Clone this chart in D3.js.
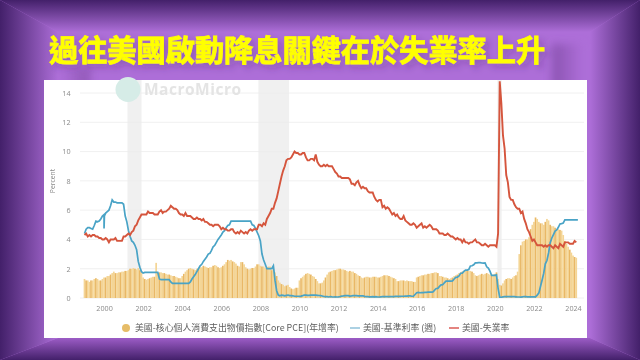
<!DOCTYPE html>
<html>
<head>
<meta charset="utf-8">
<script src="https://cdnjs.cloudflare.com/ajax/libs/d3/7.8.5/d3.min.js"></script>
<style>
html, body { margin: 0; padding: 0; background: #a868d2; }
svg { display: block; }
</style>
</head>
<body>
<div id="chart"></div>
<script>
const title = "過往美國啟動降息關鍵在於失業率上升";
const yTicks = [0, 2, 4, 6, 8, 10, 12, 14];
const xTicks = [2000, 2002, 2004, 2006, 2008, 2010, 2012, 2014, 2016, 2018, 2020, 2022, 2024];
const recessions = [[2001.2, 2001.92], [2007.9, 2009.47], [2020.13, 2020.35]];
const seriesNames = ["美國-核心個人消費支出物價指數[Core PCE](年增率)", "美國-基準利率 (週)", "美國-失業率"];

// monthly values, Jan 1999 on
const corePce = [
  1.3, 1.2, 1.2, 1.1, 1.2, 1.2, 1.3, 1.35, 1.3, 1.2, 1.2, 1.3,
  1.4, 1.4, 1.5, 1.5, 1.6, 1.7, 1.8, 1.7, 1.7, 1.75, 1.75, 1.8,
  1.8, 1.85, 1.85, 1.9, 2.0, 2.0, 2.05, 2.0, 1.95, 2.05, 1.9, 1.75,
  1.4, 1.3, 1.25, 1.3, 1.35, 1.4, 1.45, 1.45, 2.4, 1.75, 1.75, 1.75,
  1.7, 1.7, 1.65, 1.6, 1.6, 1.55, 1.5, 1.5, 1.45, 1.4, 1.35, 1.35,
  1.5, 1.65, 1.8, 1.9, 2.0, 2.05, 2.0, 1.95, 1.9, 2.0, 2.05, 2.1,
  2.1, 2.2, 2.15, 2.1, 2.05, 2.1, 2.1, 2.2, 2.25, 2.2, 2.1, 2.05,
  2.1, 2.2, 2.3, 2.45, 2.6, 2.55, 2.6, 2.5, 2.45, 2.35, 2.2, 2.15,
  2.45, 2.45, 2.3, 2.1, 2.0, 1.95, 2.0, 2.05, 2.05, 2.15, 2.3, 2.3,
  2.2, 2.15, 2.15, 2.05, 2.1, 2.15, 2.15, 1.9, 2.0, 1.75, 1.5, 1.2,
  1.05, 0.95, 0.9, 0.8, 0.85, 0.9, 0.75, 0.65, 0.6, 0.65, 0.7, 0.7,
  1.2, 1.35, 1.45, 1.55, 1.65, 1.7, 1.65, 1.6, 1.5, 1.45, 1.3, 1.15,
  1.0, 1.0, 1.05, 1.2, 1.4, 1.6, 1.75, 1.8, 1.85, 1.9, 1.9, 1.95,
  2.0, 2.0, 1.95, 1.95, 1.9, 1.85, 1.8, 1.85, 1.8, 1.8, 1.7, 1.65,
  1.55, 1.5, 1.4, 1.35, 1.4, 1.45, 1.45, 1.4, 1.4, 1.45, 1.45, 1.45,
  1.4, 1.4, 1.45, 1.5, 1.55, 1.55, 1.55, 1.5, 1.45, 1.4, 1.35, 1.3,
  1.15, 1.15, 1.2, 1.2, 1.2, 1.15, 1.2, 1.15, 1.15, 1.15, 1.1, 1.1,
  1.4, 1.45, 1.5, 1.55, 1.55, 1.6, 1.6, 1.65, 1.65, 1.7, 1.7, 1.75,
  1.75, 1.7, 1.5, 1.5, 1.45, 1.4, 1.4, 1.35, 1.3, 1.35, 1.4, 1.5,
  1.55, 1.6, 1.7, 1.75, 1.8, 1.85, 1.9, 1.9, 1.85, 1.85, 1.8, 1.7,
  1.55, 1.5, 1.55, 1.6, 1.65, 1.6, 1.65, 1.7, 1.65, 1.6, 1.55, 1.6,
  1.65, 1.75, 1.3, 0.9, 0.85, 1.0, 1.2, 1.3, 1.35, 1.35, 1.3, 1.4,
  1.5, 1.55, 1.8, 3.0, 3.6, 3.85, 3.9, 4.0, 4.0, 4.15, 4.7, 5.0,
  5.2, 5.5, 5.4, 5.2, 5.1, 5.1, 5.0, 5.2, 5.4, 5.3, 5.0, 4.9,
  4.9, 4.8, 4.7, 4.7, 4.65, 4.6, 4.3, 3.9, 3.7, 3.5, 3.3, 3.1,
  2.9, 2.8, 2.75
];

const unemployment = [
  4.3, 4.4, 4.2, 4.3, 4.2, 4.3, 4.3, 4.2, 4.2, 4.1, 4.1, 4.0,
  4.0, 4.1, 4.0, 3.8, 4.0, 4.0, 4.0, 4.1, 3.9, 3.9, 3.9, 3.9,
  4.2, 4.2, 4.3, 4.4, 4.3, 4.5, 4.6, 4.9, 5.0, 5.3, 5.5, 5.7,
  5.7, 5.7, 5.7, 5.9, 5.8, 5.8, 5.8, 5.7, 5.7, 5.7, 5.9, 6.0,
  5.8, 5.9, 5.9, 6.0, 6.1, 6.3, 6.2, 6.1, 6.1, 6.0, 5.8, 5.7,
  5.7, 5.6, 5.8, 5.6, 5.6, 5.6, 5.5, 5.4, 5.4, 5.5, 5.4, 5.4,
  5.3, 5.4, 5.2, 5.2, 5.1, 5.0, 5.0, 4.9, 5.0, 5.0, 5.0, 4.9,
  4.7, 4.8, 4.7, 4.7, 4.6, 4.6, 4.7, 4.7, 4.5, 4.4, 4.5, 4.4,
  4.6, 4.5, 4.4, 4.5, 4.4, 4.6, 4.7, 4.6, 4.7, 4.7, 4.7, 5.0,
  5.0, 4.9, 5.1, 5.0, 5.4, 5.6, 5.8, 6.1, 6.1, 6.5, 6.8, 7.3,
  7.8, 8.3, 8.7, 9.0, 9.4, 9.5, 9.5, 9.6, 9.8, 10.0, 9.9, 9.9,
  9.8, 9.8, 9.9, 9.9, 9.6, 9.4, 9.4, 9.5, 9.5, 9.4, 9.8, 9.3,
  9.1, 9.0, 9.0, 9.1, 9.0, 9.1, 9.0, 9.0, 9.0, 8.8, 8.6, 8.5,
  8.3, 8.3, 8.2, 8.2, 8.2, 8.2, 8.2, 8.1, 7.8, 7.8, 7.7, 7.9,
  8.0, 7.7, 7.5, 7.6, 7.5, 7.5, 7.3, 7.2, 7.2, 7.2, 6.9, 6.7,
  6.6, 6.7, 6.7, 6.2, 6.3, 6.1, 6.2, 6.1, 5.9, 5.7, 5.8, 5.6,
  5.7, 5.5, 5.4, 5.4, 5.6, 5.3, 5.2, 5.1, 5.0, 5.0, 5.1, 5.0,
  4.8, 4.9, 5.0, 5.1, 4.8, 4.9, 4.8, 4.9, 5.0, 4.9, 4.7, 4.7,
  4.7, 4.6, 4.4, 4.4, 4.4, 4.3, 4.3, 4.4, 4.3, 4.2, 4.2, 4.1,
  4.0, 4.1, 4.0, 4.0, 3.8, 4.0, 3.8, 3.8, 3.7, 3.8, 3.8, 3.9,
  4.0, 3.8, 3.8, 3.7, 3.6, 3.6, 3.7, 3.6, 3.5, 3.6, 3.6, 3.6,
  3.6, 3.5, 4.4, 14.8, 13.3, 11.1, 10.2, 8.4, 7.9, 6.9, 6.7, 6.7,
  6.4, 6.2, 6.1, 6.1, 5.8, 5.9, 5.4, 5.1, 4.7, 4.5, 4.2, 3.9,
  4.0, 3.8, 3.6, 3.6, 3.6, 3.6, 3.5, 3.6, 3.5, 3.6, 3.6, 3.5,
  3.4, 3.6, 3.5, 3.4, 3.7, 3.6, 3.5, 3.8, 3.8, 3.8, 3.7, 3.7,
  3.7, 3.9, 3.8
];

const fedRate = [
  4.4, 4.7, 4.8, 4.8, 4.75, 4.7, 4.95, 5.25, 5.2, 5.25, 5.4, 5.6,
  5.7, 5.8, 5.9, 6.0, 6.3, 6.7, 6.55, 6.55, 6.5, 6.5, 6.5, 6.5,
  6.4, 5.6, 5.2, 4.6, 4.2, 3.9, 3.8, 3.6, 3.3, 2.5, 2.1, 1.8,
  1.7, 1.75, 1.75, 1.75, 1.75, 1.75, 1.75, 1.75, 1.75, 1.75, 1.3, 1.25,
  1.25, 1.25, 1.25, 1.25, 1.25, 1.1, 1.0, 1.0, 1.0, 1.0, 1.0, 1.0,
  1.0, 1.0, 1.0, 1.0, 1.0, 1.1, 1.3, 1.45, 1.6, 1.8, 2.0, 2.2,
  2.3, 2.5, 2.65, 2.8, 3.0, 3.05, 3.25, 3.5, 3.6, 3.8, 4.0, 4.15,
  4.3, 4.5, 4.6, 4.8, 4.95, 5.0, 5.25, 5.25, 5.25, 5.25, 5.25, 5.25,
  5.25, 5.25, 5.25, 5.25, 5.25, 5.25, 5.25, 5.0, 4.95, 4.75, 4.5, 4.25,
  3.9, 3.0, 2.6, 2.3, 2.0, 2.0, 2.0, 2.0, 2.2, 1.2, 0.5, 0.2,
  0.15, 0.2, 0.18, 0.15, 0.18, 0.2, 0.16, 0.16, 0.15, 0.12, 0.12, 0.12,
  0.11, 0.13, 0.16, 0.2, 0.2, 0.18, 0.18, 0.19, 0.19, 0.19, 0.19, 0.18,
  0.17, 0.16, 0.14, 0.1, 0.09, 0.09, 0.07, 0.1, 0.08, 0.07, 0.08, 0.07,
  0.08, 0.1, 0.13, 0.14, 0.16, 0.16, 0.16, 0.13, 0.14, 0.16, 0.16, 0.16,
  0.14, 0.15, 0.14, 0.15, 0.11, 0.09, 0.09, 0.08, 0.08, 0.09, 0.08, 0.09,
  0.07, 0.07, 0.08, 0.09, 0.09, 0.1, 0.09, 0.09, 0.09, 0.09, 0.09, 0.12,
  0.11, 0.11, 0.11, 0.12, 0.12, 0.13, 0.13, 0.14, 0.14, 0.12, 0.12, 0.24,
  0.36, 0.38, 0.36, 0.37, 0.37, 0.38, 0.39, 0.4, 0.4, 0.4, 0.41, 0.54,
  0.65, 0.66, 0.79, 0.9, 0.91, 1.04, 1.15, 1.16, 1.15, 1.15, 1.16, 1.3,
  1.41, 1.42, 1.51, 1.69, 1.7, 1.82, 1.91, 1.91, 1.95, 2.19, 2.2, 2.27,
  2.4, 2.4, 2.41, 2.42, 2.39, 2.38, 2.4, 2.13, 2.04, 1.83, 1.55, 1.55,
  1.55, 1.58, 0.65, 0.05, 0.05, 0.08, 0.09, 0.1, 0.09, 0.09, 0.09, 0.09,
  0.09, 0.08, 0.07, 0.07, 0.06, 0.08, 0.1, 0.09, 0.08, 0.08, 0.08, 0.08,
  0.08, 0.08, 0.2, 0.33, 0.77, 1.21, 1.68, 2.33, 2.56, 3.08, 3.78, 4.1,
  4.33, 4.57, 4.65, 4.83, 5.06, 5.08, 5.12, 5.33, 5.33, 5.33, 5.33, 5.33,
  5.33, 5.33, 5.33, 5.33
];
// single-week dip around the 2000 new year
const fedDips = [[2000.0, 4.75], [2000.02, 5.6]];

const width = 640;
const height = 360;

const x = d3.scaleLinear().domain([1999, 2024]).range([84.5, 573]);
const y = d3.scaleLinear().domain([0, 14]).range([298, 93]);
const monthX = i => 1999 + i / 12;

const svg = d3.select('#chart').append('svg')
  .attr('width', width)
  .attr('height', height);

const defs = svg.append('defs');
const dark = '#43206a';
const light = '#ad6ed8';
function addGrad(id, x1, y1, x2, y2, from, to) {
  const g = defs.append('linearGradient').attr('id', id)
    .attr('x1', x1).attr('y1', y1).attr('x2', x2).attr('y2', y2);
  g.append('stop').attr('offset', 0).attr('stop-color', from);
  g.append('stop').attr('offset', 1).attr('stop-color', to);
}
addGrad('bevelTop', 0, 0, 0, 1, dark, light);
addGrad('bevelBottom', 0, 1, 0, 0, dark, '#9c5cc6');
addGrad('bevelLeft', 0, 0, 1, 0, dark, light);
addGrad('bevelRight', 1, 0, 0, 0, dark, light);
addGrad('innerLeft', 0, 0, 1, 0, light, '#8f56b4');
addGrad('innerRight', 1, 0, 0, 0, light, '#8a52b0');

defs.append('filter').attr('id', 'soft')
  .attr('x', '-5%').attr('y', '-5%').attr('width', '110%').attr('height', '110%')
  .append('feGaussianBlur').attr('stdDeviation', 0.45);
defs.append('filter').attr('id', 'haze')
  .attr('x', '-30%').attr('y', '-30%').attr('width', '160%').attr('height', '160%')
  .append('feGaussianBlur').attr('stdDeviation', 4);
defs.append('filter').attr('id', 'shadow')
  .attr('x', '-10%').attr('y', '-30%').attr('width', '120%').attr('height', '160%')
  .append('feDropShadow')
  .attr('dx', 4).attr('dy', 4).attr('stdDeviation', 3)
  .attr('flood-color', '#3a1a58').attr('flood-opacity', 0.25);

// purple frame
const inL = 58, inR = 590, inT = 32, inB = 338;
svg.append('rect').attr('width', width).attr('height', height).attr('fill', light);
const bevels = [
  ['bevelTop', [[0, 0], [width, 0], [inR, inT], [inL, inT]]],
  ['bevelBottom', [[0, height], [width, height], [inR, inB], [inL, inB]]],
  ['bevelLeft', [[0, 0], [inL, inT], [inL, inB], [0, height]]],
  ['bevelRight', [[width, 0], [inR, inT], [inR, inB], [width, height]]]
];
svg.selectAll('.bevel').data(bevels).enter().append('polygon')
  .attr('class', 'bevel')
  .attr('points', d => d[1].join(' '))
  .attr('fill', d => `url(#${d[0]})`);

// inner shading beside the title block
const innerShades = [
  ['innerLeft', [[62, 68], [90, 68], [90, 90], [62, 90]]],
  ['innerRight', [[552, 44], [582, 44], [582, 90], [552, 90]]]
];
svg.selectAll('.inner').data(innerShades).enter().append('polygon')
  .attr('class', 'inner')
  .attr('points', d => d[1].join(' '))
  .attr('fill', d => `url(#${d[0]})`)
  .attr('filter', 'url(#haze)');

// title
svg.append('text')
  .attr('x', 49)
  .attr('y', 61)
  .attr('font-family', '"Noto Sans CJK TC", sans-serif')
  .attr('font-weight', 700)
  .attr('font-size', 29.2)
  .attr('fill', '#ffff00')
  .attr('stroke', '#ffff00').attr('stroke-width', 0.8)
  .attr('filter', 'url(#shadow)')
  .text(title);

// white panel
svg.append('rect')
  .attr('x', 44).attr('y', 80).attr('width', 543).attr('height', 258)
  .attr('fill', '#fff');

const g = svg.append('g').attr('filter', 'url(#soft)');

g.selectAll('.band').data(recessions).enter().append('rect')
  .attr('x', d => x(d[0]))
  .attr('y', 80)
  .attr('width', d => x(d[1]) - x(d[0]))
  .attr('height', y(0) - 80)
  .attr('fill', '#f0f0f0');

g.selectAll('.grid').data(yTicks).enter().append('line')
  .attr('x1', 80).attr('x2', 584)
  .attr('y1', d => y(d)).attr('y2', d => y(d))
  .attr('stroke', '#ececec').attr('stroke-width', 0.8);

// logo watermark
g.append('circle').attr('cx', 128).attr('cy', 89.5).attr('r', 12.5).attr('fill', '#d6ece7');
g.append('text').attr('x', 144).attr('y', 95)
  .attr('font-family', '"Open Sans", sans-serif').attr('font-weight', 700).attr('font-size', 15.5)
  .attr('letter-spacing', 0.5).attr('fill', '#e4e4e4').text('MacroMicro');

// bars, every third one reads darker in the source
const barColor = (d, i) => (i % 3 === 1 ? '#e9b866' : '#f4d595');
g.selectAll('.bar').data(corePce).enter().append('rect')
  .attr('x', (d, i) => x(monthX(i)) - 0.85)
  .attr('y', d => y(d))
  .attr('width', 1.7)
  .attr('height', d => y(0) - y(d))
  .attr('fill', barColor);

const line = d3.line()
  .x(d => x(d[0]))
  .y(d => y(d[1]));

const fedPoints = fedRate.map((v, i) => [monthX(i), v]).concat(fedDips).sort((a, b) => a[0] - b[0]);
const unemploymentPoints = unemployment.map((v, i) => [monthX(i), v]);

g.append('path').datum(fedPoints)
  .attr('d', line).attr('fill', 'none')
  .attr('stroke', '#48a3c6').attr('stroke-width', 1.7);
g.append('path').datum(unemploymentPoints)
  .attr('d', line).attr('fill', 'none')
  .attr('stroke', '#d5553d').attr('stroke-width', 1.9);

// axes
const yAxis = d3.axisLeft(y).tickValues(yTicks).tickSize(0).tickPadding(0);
const yG = g.append('g').attr('transform', 'translate(70.5,0)').call(yAxis);
yG.select('.domain').remove();
yG.selectAll('text').attr('fill', '#8a8a8a').attr('font-size', 7.2).attr('font-family', '"Open Sans", sans-serif');

const xAxis = d3.axisBottom(x).tickValues(xTicks).tickFormat(d3.format('d')).tickSize(0).tickPadding(0);
const xG = g.append('g').attr('transform', 'translate(0,306)').call(xAxis);
xG.select('.domain').remove();
xG.selectAll('text').attr('fill', '#8a8a8a').attr('font-size', 7.2).attr('font-family', '"Open Sans", sans-serif');

g.append('text')
  .attr('transform', 'translate(55,181) rotate(-90)')
  .attr('text-anchor', 'middle')
  .attr('fill', '#8a8a8a').attr('font-size', 6.8)
  .attr('font-family', '"Open Sans", sans-serif')
  .text('Percent');

// legend
const legendItems = [
  { x: 135, name: seriesNames[0] },
  { x: 363, name: seriesNames[1] },
  { x: 462, name: seriesNames[2] }
];
g.append('circle').attr('cx', 126).attr('cy', 328).attr('r', 4).attr('fill', '#e6bc67');
g.append('line').attr('x1', 350).attr('x2', 360).attr('y1', 328).attr('y2', 328)
  .attr('stroke', '#7fb8d4').attr('stroke-width', 1.3);
g.append('line').attr('x1', 449).attr('x2', 459).attr('y1', 328).attr('y2', 328)
  .attr('stroke', '#d8504a').attr('stroke-width', 1.4);
g.selectAll('.legend').data(legendItems).enter().append('text')
  .attr('x', d => d.x).attr('y', 331)
  .attr('font-family', '"Noto Sans CJK TC", sans-serif')
  .attr('font-size', 8.9)
  .attr('fill', '#5c5c5c')
  .text(d => d.name);
</script>
</body>
</html>
